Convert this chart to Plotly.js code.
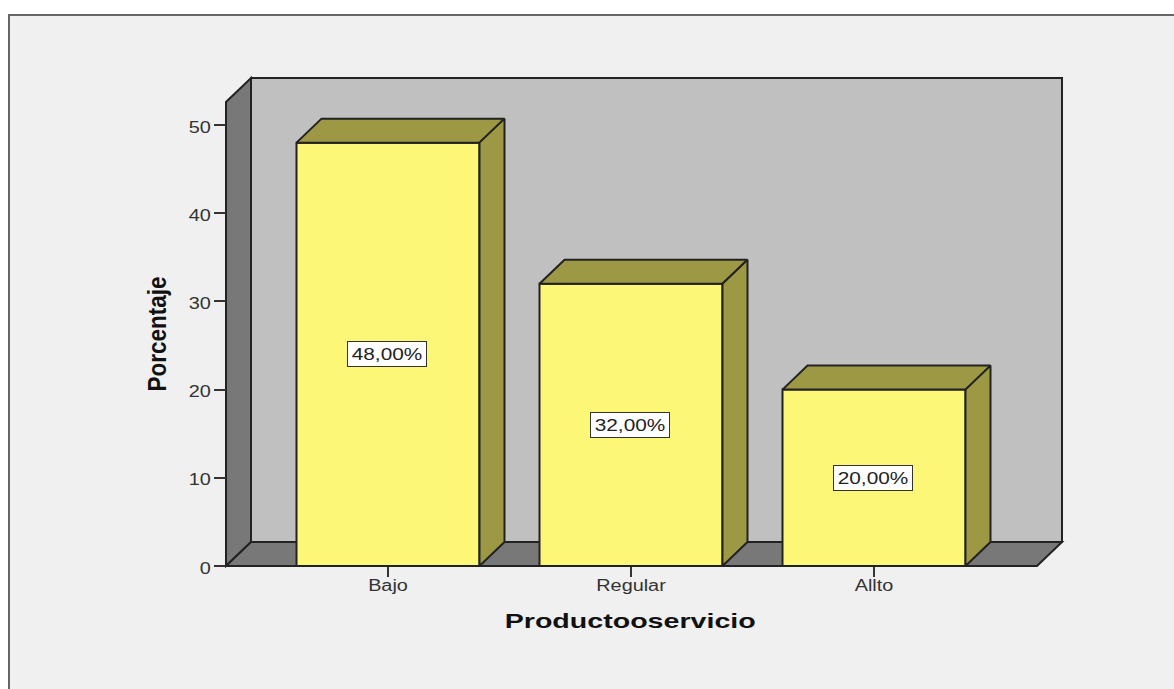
<!DOCTYPE html>
<html>
<head>
<meta charset="utf-8">
<script src="https://cdn.plot.ly/plotly-3.0.1.min.js"></script>
<style>
html,body{margin:0;padding:0;background:#fff;width:1174px;height:689px;overflow:hidden}
#frame{position:absolute;left:8px;top:14px;width:1166px;height:675px;border-left:2px solid #666;border-top:2px solid #666;background:#f0f0f0}
#chart{position:absolute;left:0;top:0;width:1164px;height:673px}
</style>
</head>
<body>
<div id="frame"><div id="chart"></div></div>
<script>
const categories = ['Bajo', 'Regular', 'Allto'];
const positions = [0, 1, 2];
const percentages = [48, 32, 20];
const valueLabels = ['48,00%', '32,00%', '20,00%'];
const yTicks = [0, 10, 20, 30, 40, 50];
const xTitle = 'Productooservicio';
const yTitle = 'Porcentaje';

const pxX = 243, pxY = 8.82, pad = 3;
const dx = 25 / pxX, dy = 24 / pxY, barW = 183 / pxX;
const xMin = (226 - 388) / pxX, xMax = (1062 - 388) / pxX;
const yMax = (566 - 78) / pxY;
const plotW = 836 + 2 * pad, plotH = 488 + 2 * pad;
const edge = '#222';
const wallLine = {color: edge, width: 2};

function poly(xs, ys, fill) {
  const path = xs.map((x, i) => (i ? 'L' : 'M') + x + ',' + ys[i]).join(' ') + ' Z';
  return {type: 'path', xref: 'x', yref: 'y', path, fillcolor: fill, line: wallLine, layer: 'below'};
}
const shapes = [
  poly([xMin + dx, xMax, xMax, xMin + dx], [dy, dy, yMax, yMax], '#c0c0c0'),
  poly([xMin, xMin + dx, xMin + dx, xMin], [0, dy, yMax, yMax - dy], '#787878'),
  poly([xMin, xMax - dx, xMax, xMin + dx], [0, 0, dy, dy], '#787878')
];

const traces = [{
  type: 'bar', x: positions, y: percentages, width: barW,
  marker: {color: '#fcf776', line: {color: edge, width: 2}}
}];
positions.forEach((p, i) => {
  const v = percentages[i], l = p - barW / 2, r = p + barW / 2;
  traces.push({
    type: 'scatter', mode: 'lines', x: [l, l + dx, r + dx, r, l], y: [v, v + dy, v + dy, v, v],
    fill: 'toself', fillcolor: '#9c9844', line: {color: edge, width: 2}
  });
  traces.push({
    type: 'scatter', mode: 'lines', x: [r, r + dx, r + dx, r, r], y: [v, v + dy, dy, 0, v],
    fill: 'toself', fillcolor: '#9c9844', line: {color: edge, width: 2}
  });
});

const annotations = positions.map((p, i) => ({
  x: p, y: percentages[i] / 2, xref: 'x', yref: 'y', text: valueLabels[i], showarrow: false,
  bgcolor: '#ffffff', bordercolor: '#333', borderwidth: 1, width: 78, height: 24, borderpad: 0,
  xshift: -1,
  font: {family: 'Liberation Sans', size: 16, color: '#222'}
}));
annotations.push({
  xref: 'paper', yref: 'paper', xanchor: 'center', yanchor: 'middle',
  x: (157 - 223) / plotW, y: (569 - 334) / plotH, textangle: -90, showarrow: false,
  text: yTitle,
  font: {family: 'Liberation Sans', size: 25, weight: 'bold', color: '#111'}
});
annotations.push({
  xref: 'paper', yref: 'paper', xanchor: 'center', yanchor: 'middle',
  x: (630 - 223) / plotW, y: (569 - 621) / plotH, showarrow: false,
  text: xTitle,
  font: {family: 'Liberation Sans', size: 21, weight: 'bold', color: '#111'}
});

const layout = {
  width: 1164, height: 673, showlegend: false, hovermode: false,
  paper_bgcolor: 'rgba(0,0,0,0)', plot_bgcolor: 'rgba(0,0,0,0)',
  margin: {l: 213, r: 109, t: 59, b: 120, pad: 0},
  xaxis: {
    range: [xMin - pad / pxX, xMax + pad / pxX], anchor: 'free', position: pad / plotH,
    tickmode: 'array', tickvals: positions, ticktext: categories,
    ticks: 'outside', ticklen: 10, tickwidth: 2, tickcolor: '#333', showgrid: false, zeroline: false,
    showline: false, ticklabelstandoff: -5, tickfont: {family: 'Liberation Sans', size: 16, color: '#333'}
  },
  yaxis: {
    range: [-pad / pxY, yMax + pad / pxY], anchor: 'free', position: pad / plotW,
    tickmode: 'array', tickvals: yTicks,
    ticks: 'outside', ticklen: 12, tickwidth: 2, tickcolor: '#333', showgrid: false, zeroline: false,
    showline: false, ticklabelshift: 2, tickfont: {family: 'Liberation Sans', size: 16, color: '#333'}
  },
  shapes, annotations
};

function fitWidth(el, width) {
  el.setAttribute('textLength', width);
  el.setAttribute('lengthAdjust', 'spacingAndGlyphs');
}
Plotly.newPlot('chart', traces, layout, {displayModeBar: false, responsive: false}).then(() => {
  document.querySelectorAll('.xtick text, .ytick text').forEach(t => fitWidth(t, t.getComputedTextLength() * 1.24));
  document.querySelectorAll('.annotation-text').forEach(t => {
    const s = t.textContent;
    if (s === xTitle) fitWidth(t, 251);
    else if (s === yTitle) fitWidth(t, 115);
    else fitWidth(t, t.getComputedTextLength() * 1.3);
  });
});
</script>
</body>
</html>
